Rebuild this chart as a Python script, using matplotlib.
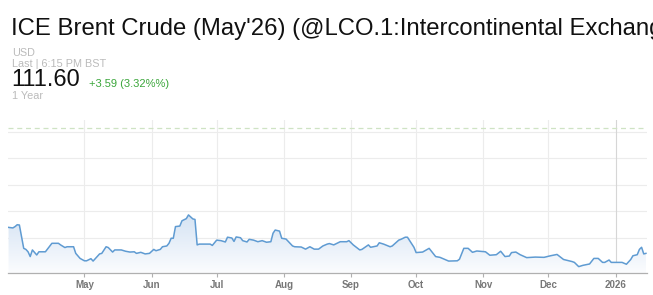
import matplotlib
matplotlib.use("Agg")
import matplotlib.pyplot as plt
import matplotlib.dates as mdates
import numpy as np
import pandas as pd
from matplotlib.colors import LinearSegmentedColormap

# ---- data ----
dates = [
    "2025-03-27", "2025-03-29", "2025-03-30", "2025-03-31", "2025-04-01", "2025-04-03",
    "2025-04-04", "2025-04-05", "2025-04-06", "2025-04-07", "2025-04-09", "2025-04-10",
    "2025-04-13", "2025-04-16", "2025-04-19", "2025-04-20", "2025-04-22", "2025-04-23",
    "2025-04-26", "2025-04-27", "2025-04-29", "2025-05-01", "2025-05-02", "2025-05-04",
    "2025-05-05", "2025-05-08", "2025-05-09", "2025-05-11", "2025-05-12", "2025-05-14",
    "2025-05-15", "2025-05-18", "2025-05-20", "2025-05-22", "2025-05-24", "2025-05-25",
    "2025-05-27", "2025-05-29", "2025-05-31", "2025-06-02", "2025-06-03", "2025-06-05",
    "2025-06-06", "2025-06-08", "2025-06-09", "2025-06-10", "2025-06-11", "2025-06-12",
    "2025-06-14", "2025-06-15", "2025-06-17", "2025-06-18", "2025-06-20", "2025-06-21",
    "2025-06-22", "2025-06-23", "2025-06-28", "2025-06-29", "2025-07-01", "2025-07-03",
    "2025-07-05", "2025-07-06", "2025-07-08", "2025-07-09", "2025-07-10", "2025-07-12",
    "2025-07-13", "2025-07-15", "2025-07-16", "2025-07-18", "2025-07-20", "2025-07-22",
    "2025-07-24", "2025-07-26", "2025-07-27", "2025-07-28", "2025-07-30", "2025-07-31",
    "2025-08-02", "2025-08-05", "2025-08-06", "2025-08-09", "2025-08-11", "2025-08-13",
    "2025-08-15", "2025-08-17", "2025-08-19", "2025-08-21", "2025-08-22", "2025-08-24",
    "2025-08-27", "2025-08-30", "2025-08-31", "2025-09-02", "2025-09-05", "2025-09-06",
    "2025-09-09", "2025-09-10", "2025-09-13", "2025-09-14", "2025-09-16", "2025-09-19",
    "2025-09-20", "2025-09-23", "2025-09-24", "2025-09-26", "2025-09-27", "2025-09-30",
    "2025-10-01", "2025-10-04", "2025-10-07", "2025-10-10", "2025-10-12", "2025-10-16",
    "2025-10-20", "2025-10-21", "2025-10-23", "2025-10-25", "2025-10-27", "2025-10-29",
    "2025-11-02", "2025-11-04", "2025-11-07", "2025-11-09", "2025-11-11", "2025-11-13",
    "2025-11-14", "2025-11-16", "2025-11-18", "2025-11-21", "2025-11-25", "2025-11-29",
    "2025-12-02", "2025-12-05", "2025-12-08", "2025-12-12", "2025-12-13", "2025-12-15",
    "2025-12-17", "2025-12-20", "2025-12-22", "2025-12-24", "2025-12-26", "2025-12-27",
    "2025-12-29", "2025-12-30", "2026-01-04", "2026-01-06", "2026-01-08", "2026-01-09",
    "2026-01-11", "2026-01-12", "2026-01-13", "2026-01-14", "2026-01-15",
]
prices = [
    74.0, 73.8, 74.3, 75.0, 74.9, 66.1,
    65.7, 64.8, 63.0, 65.5, 63.6, 64.8,
    64.8, 68.0, 68.0, 67.4, 66.4, 66.7,
    66.7, 64.2, 62.3, 61.4, 61.4, 62.2,
    61.3, 64.0, 64.2, 66.7, 66.4, 64.7,
    65.5, 65.5, 65.0, 64.7, 64.8, 64.2,
    64.6, 64.0, 64.2, 65.7, 65.2, 65.7,
    66.7, 67.0, 68.0, 69.9, 69.9, 74.3,
    74.5, 76.5, 77.3, 78.7, 77.2, 77.0,
    67.4, 67.7, 67.7, 67.2, 69.2, 69.0,
    68.5, 70.3, 70.0, 68.7, 70.4, 70.1,
    69.0, 68.5, 69.5, 69.2, 68.6, 69.0,
    68.4, 68.6, 71.8, 73.0, 72.6, 69.9,
    69.6, 67.0, 66.7, 66.6, 65.8, 66.7,
    65.8, 65.8, 67.0, 67.7, 67.9, 67.4,
    68.6, 68.6, 69.0, 67.4, 65.5, 65.7,
    67.4, 66.5, 67.0, 68.2, 67.7, 66.7,
    67.0, 69.2, 69.5, 70.3, 70.3, 66.5,
    64.5, 64.7, 66.1, 63.0, 62.7, 61.3,
    61.4, 62.0, 66.1, 66.1, 64.6, 65.1,
    64.8, 63.5, 63.7, 65.0, 63.0, 63.2,
    64.5, 64.7, 63.7, 62.6, 62.8, 62.7,
    63.3, 63.8, 61.9, 61.1, 60.8, 59.2,
    59.7, 60.2, 62.3, 62.3, 60.8, 60.8,
    61.7, 60.8, 60.8, 60.1, 61.9, 63.3,
    63.7, 65.7, 66.5, 64.0, 64.2,
]
last_price = 111.60
grid_values = [70, 80, 90, 100, 110]
month_ticks = ["2025-05-01", "2025-06-01", "2025-07-01", "2025-08-01", "2025-09-01",
               "2025-10-01", "2025-11-01", "2025-12-01", "2026-01-01"]
month_labels = ["May", "Jun", "Jul", "Aug", "Sep", "Oct", "Nov", "Dec", "2026"]

title = "ICE Brent Crude (May'26) (@LCO.1:Intercontinental Exchange)"
currency = "USD"
last_label = "Last | 6:15 PM BST"
price_text = "111.60"
change_text = "+3.59 (3.32%%)"
period_text = "1 Year"

# ---- figure ----
plt.rcParams['font.family'] = ['Liberation Sans', 'DejaVu Sans']
W, H = 653, 295
fig = plt.figure(figsize=(W / 100, H / 100), dpi=100)

x = pd.to_datetime(dates)
xn = mdates.date2num(x)

ax = fig.add_axes([8 / W, (H - 273) / H, (647 - 8) / W, (273 - 120) / H])
ymin, ymax = 56.8, 114.5
xmin = mdates.date2num(pd.Timestamp("2025-03-26 18:00"))
xmax = mdates.date2num(pd.Timestamp("2026-01-15 12:00"))
ax.set_xlim(xmin, xmax)
ax.set_ylim(ymin, ymax)

# gradient fill below the line
cmap = LinearSegmentedColormap.from_list("g", ["#fbfcfe", "#d3e2f3"])
grad = np.linspace(0, 1, 256).reshape(-1, 1)
grad = np.clip((grad * (ymax - ymin)) / (80 - ymin), 0, 1)
img = ax.imshow(grad, extent=[xmin, xmax, ymin, ymax], origin="lower",
                aspect="auto", cmap=cmap, vmin=0, vmax=1, zorder=1)
poly = ax.fill_between(xn, prices, ymin, color="none", zorder=1)
clip = poly.get_paths()[0]
img.set_clip_path(clip, transform=ax.transData)

# grid
for g in grid_values:
    ax.axhline(g, color="#ececec", lw=0.8, zorder=0.5)
tick_nums = mdates.date2num(pd.to_datetime(month_ticks))
for i, t in enumerate(tick_nums):
    col = "#d6d6d6" if month_labels[i] == "2026" else "#ececec"
    ax.axvline(t, color=col, lw=0.8, zorder=0.5)

ax.axhline(last_price, color="#cfe3c4", lw=0.9, ls=(0, (4, 3)), zorder=2)

ax.plot(xn, prices, color="#5f9bd2", lw=1.1, zorder=3, solid_joinstyle="round")

for s in ["top", "right", "left"]:
    ax.spines[s].set_visible(False)
ax.spines["bottom"].set_color("#b0b0b0")
ax.spines["bottom"].set_linewidth(0.9)
ax.set_yticks([])
ax.set_xticks(tick_nums)
ax.set_xticklabels(month_labels)
ax.tick_params(axis="x", length=3, width=0.8, color="#b0b0b0", pad=2,
               labelsize=7, labelcolor="#777777")
for lab in ax.get_xticklabels():
    lab.set_fontweight("bold")

# header texts
fig.text(11 / W, 1 - 35 / H, title, fontsize=17.2, color="#111111", va="baseline")
fig.text(12 / W, 1 - 53 / H, currency, fontsize=7.8, color="#bbbbbb", va="center")
fig.text(12 / W, 1 - 64 / H, last_label, fontsize=7.8, color="#bbbbbb", va="center")
fig.text(11 / W, 1 - 80 / H, price_text, fontsize=17, color="#111111", va="center")
fig.text(89 / W, 1 - 84 / H, change_text, fontsize=8, color="#3aa63a", va="center")
fig.text(12 / W, 1 - 96 / H, period_text, fontsize=7.8, color="#bbbbbb", va="center")

fig.savefig("out.png", dpi=100)
